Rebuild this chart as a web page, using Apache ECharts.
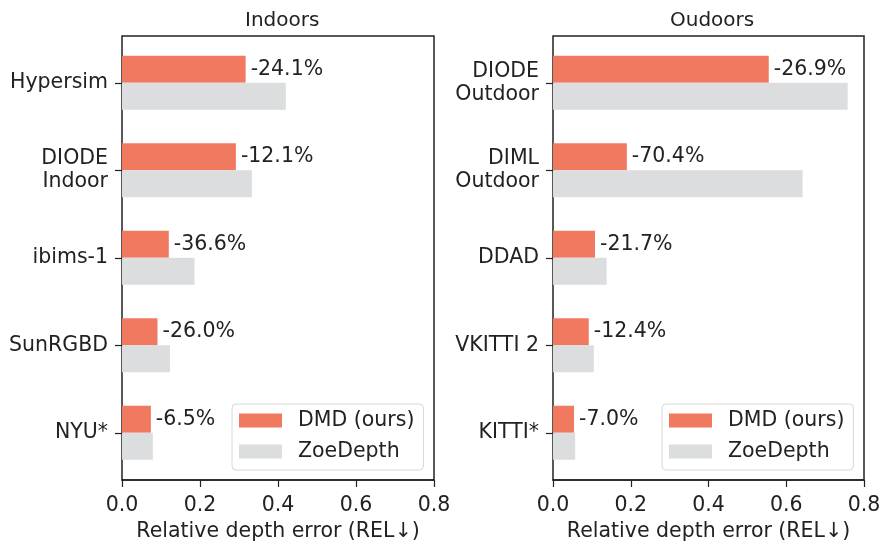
<!DOCTYPE html>
<html><head><meta charset="utf-8">
<script src="https://cdn.jsdelivr.net/npm/echarts@6/dist/echarts.min.js"></script>
<style>html,body{margin:0;padding:0;background:#fff}#c{width:885px;height:550px}</style>
</head><body><div id="c"></div>
<script>
const indoorCats = ['Hypersim', 'DIODE\nIndoor', 'ibims-1', 'SunRGBD', 'NYU*'];
const indoorDMD = [0.317, 0.292, 0.120, 0.091, 0.074];
const indoorZoe = [0.420, 0.333, 0.186, 0.123, 0.079];
const indoorPct = ['-24.1%', '-12.1%', '-36.6%', '-26.0%', '-6.5%'];

const outdoorCats = ['DIODE\nOutdoor', 'DIML\nOutdoor', 'DDAD', 'VKITTI 2', 'KITTI*'];
const outdoorDMD = [0.555, 0.190, 0.108, 0.092, 0.054];
const outdoorZoe = [0.758, 0.642, 0.138, 0.105, 0.057];
const outdoorPct = ['-26.9%', '-70.4%', '-21.7%', '-12.4%', '-7.0%'];

const xTicks = [0, 0.2, 0.4, 0.6, 0.8];
const titles = ['Indoors', 'Oudoors'];
const seriesNames = ['DMD (ours)', 'ZoeDepth'];
const xName = 'Relative depth error (REL\u2193)';

const FONT = 'DejaVu Sans';
const FS = 20.5;
const ORANGE = '#F07960';
const GRAY = '#DCDDDE';
const INK = '#222';

const chart = echarts.init(document.getElementById('c'), null, {renderer: 'canvas'});

// visible x axis on the frame grid
function xAxisFrame(i) {
  return {
    type: 'value', gridIndex: i, min: 0, max: 0.8, interval: 0.2,
    axisLine: {show: true, lineStyle: {color: INK, width: 1.5}},
    axisTick: {show: true, length: 7, lineStyle: {color: INK, width: 1.2}},
    splitLine: {show: false},
    axisLabel: {color: INK, fontFamily: FONT, fontSize: FS, margin: 15,
      formatter: v => xTicks.includes(+v.toFixed(1)) ? v.toFixed(1) : ''},
    name: xName, nameLocation: 'middle', nameGap: 39,
    nameTextStyle: {color: INK, fontFamily: FONT, fontSize: FS}
  };
}
// hidden x axis on the bar grid (same scale)
function xAxisBars(i) {
  return {type: 'value', gridIndex: i, min: 0, max: 0.8, interval: 0.2, show: false};
}
function yAxisBars(i, cats) {
  return {
    type: 'category', gridIndex: i, data: cats, inverse: true,
    axisLine: {show: false},
    axisTick: {show: true, alignWithLabel: true, length: 7, lineStyle: {color: INK, width: 1.2}},
    axisLabel: {color: INK, fontFamily: FONT, fontSize: FS, margin: 14, lineHeight: 23, align: 'right'}
  };
}
function yAxisFrame(i) {
  return {type: 'value', gridIndex: i, min: 0, max: 1, show: false};
}
function barSeries(name, i, data, color, pct) {
  const s = {
    name, type: 'bar', xAxisIndex: i, yAxisIndex: i, data,
    barWidth: 27, barGap: '0%', itemStyle: {color},
    emphasis: {disabled: true}
  };
  if (pct) {
    s.label = {show: true, position: 'right', distance: 5, color: INK,
      fontFamily: FONT, fontSize: FS, formatter: p => pct[p.dataIndex]};
  }
  return s;
}
function legend(left) {
  return {
    left, top: 404, orient: 'vertical', data: seriesNames,
    icon: 'rect', itemWidth: 43, itemHeight: 14, itemGap: 10,
    padding: [6, 9, 8, 7],
    backgroundColor: '#fff', borderColor: '#d6d6d6', borderWidth: 1, borderRadius: 4,
    textStyle: {color: INK, fontFamily: FONT, fontSize: FS, lineHeight: 21, padding: [0, 0, 0, 11]},
    selectedMode: false, z: 10
  };
}

chart.setOption({
  animation: false,
  title: [
    {text: titles[0], left: 240, top: 6,
     textStyle: {color: INK, fontFamily: FONT, fontSize: 20, fontWeight: 'normal'}},
    {text: titles[1], left: 665, top: 6,
     textStyle: {color: INK, fontFamily: FONT, fontSize: 20, fontWeight: 'normal'}}
  ],
  grid: [
    {left: 122, top: 39, width: 312, height: 437.5},
    {left: 553, top: 39, width: 311, height: 437.5},
    {left: 122, top: 36, width: 312, height: 444, show: true, borderColor: INK, borderWidth: 1.5},
    {left: 553, top: 36, width: 311, height: 444, show: true, borderColor: INK, borderWidth: 1.5}
  ],
  xAxis: [xAxisBars(0), xAxisBars(1), xAxisFrame(2), xAxisFrame(3)],
  yAxis: [yAxisBars(0, indoorCats), yAxisBars(1, outdoorCats), yAxisFrame(2), yAxisFrame(3)],
  legend: [legend(232), legend(662)],
  series: [
    barSeries(seriesNames[0], 0, indoorDMD, ORANGE, indoorPct),
    barSeries(seriesNames[1], 0, indoorZoe, GRAY, null),
    barSeries(seriesNames[0], 1, outdoorDMD, ORANGE, outdoorPct),
    barSeries(seriesNames[1], 1, outdoorZoe, GRAY, null)
  ]
});
</script>
</body></html>
